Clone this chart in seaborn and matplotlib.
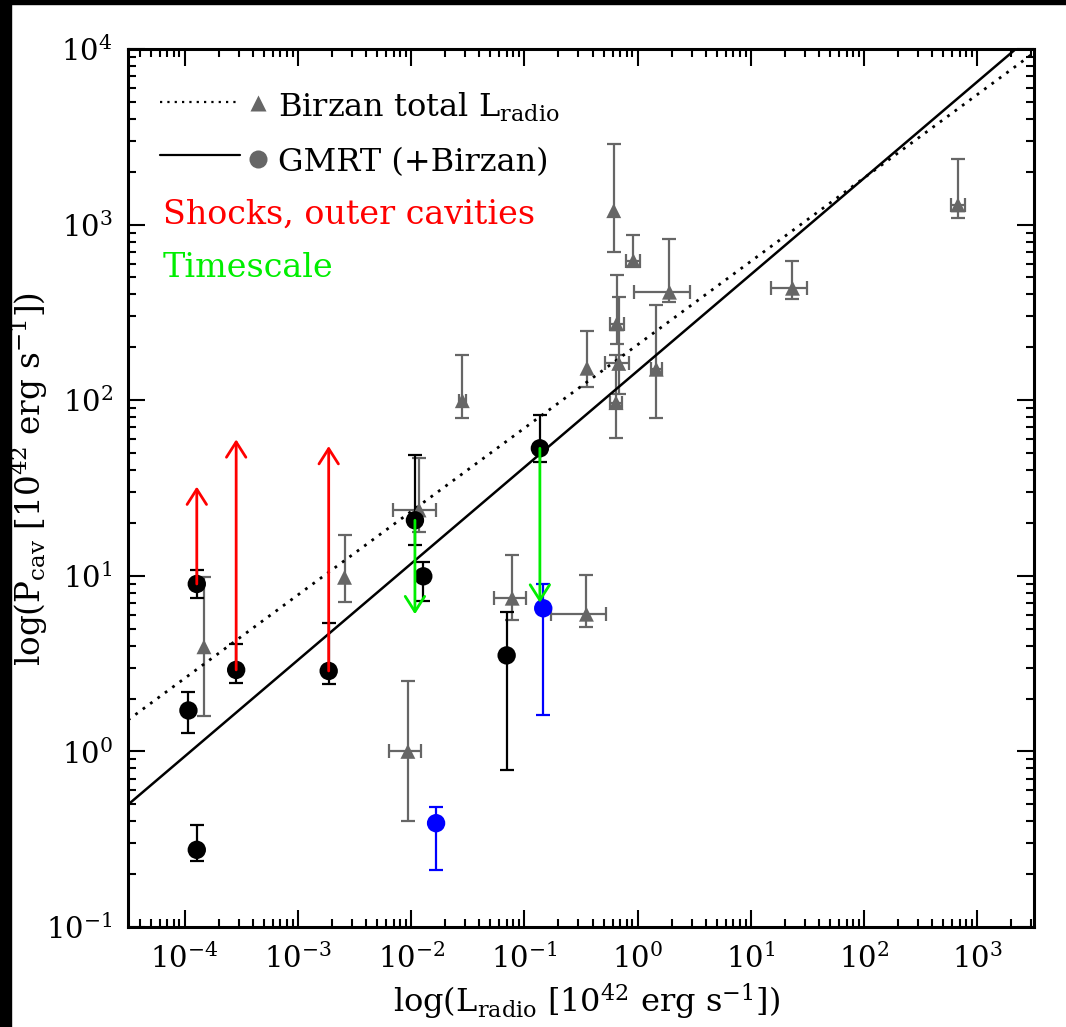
import numpy as np
import matplotlib
matplotlib.use("Agg")
import matplotlib.pyplot as plt
import seaborn as sns
from matplotlib.patches import Rectangle, FancyArrowPatch

sns.set_style("ticks")
plt.rcParams['font.family'] = ['DejaVu Serif']
plt.rcParams['mathtext.fontset'] = 'dejavuserif'
plt.rcParams['text.color'] = 'black'
plt.rcParams['axes.labelcolor'] = 'black'
plt.rcParams['xtick.color'] = 'black'
plt.rcParams['ytick.color'] = 'black'

# Birzan total L_radio (grey triangles)
bir_L = [1.48e-4, 2.58e-3, 0.01175, 0.0283, 9.36e-3, 0.078, 0.353, 0.615, 0.916,
         1.91, 0.653, 0.681, 0.644, 0.357, 1.46, 23.3, 673]
bir_P = [3.94, 9.8, 23.7, 99.3, 1.0, 7.45, 6.04, 1200, 623,
         412, 272, 162, 96.8, 152, 150, 434, 1294]
bir_P_lo = [1.6, 7.07, 17.8, 79.4, 0.40, 5.6, 5.13, 698, 581,
            364, 209, 109, 60.7, 119, 79.4, 377, 1094]
bir_P_hi = [9.9, 17.1, 46.7, 181, 2.5, 13.1, 10.1, 2877, 869,
            824, 514, 389, 182, 248, 349, 622, 2364]
bir_L_lo = [np.nan, np.nan, 6.85e-3, 0.0262, 6.4e-3, 0.0538, 0.172, np.nan, 0.795,
            0.93, 0.573, 0.519, 0.573, np.nan, 1.32, 15.2, 589]
bir_L_hi = [np.nan, np.nan, 0.0165, 0.0306, 0.0122, 0.1026, 0.526, np.nan, 1.05,
            2.87, 0.752, 0.845, 0.727, np.nan, 1.65, 31.3, 771]

# GMRT (black circles)
gm_L = [1.28e-4, 1.08e-4, 1.28e-4, 2.85e-4, 1.87e-3, 0.0108, 0.0128, 0.0697, 0.137]
gm_P = [8.98, 1.71, 0.275, 2.91, 2.87, 20.7, 9.93, 3.52, 53.2]
gm_P_lo = [7.5, 1.27, 0.236, 2.44, 2.42, 15.0, 7.2, 0.78, 44.7]
gm_P_hi = [10.8, 2.19, 0.381, 4.1, 5.4, 49.0, 12.0, 6.2, 82.6]

# blue circles
bl_L = [0.0166, 0.1466]
bl_P = [0.39, 6.53]
bl_P_lo = [0.211, 1.62]
bl_P_hi = [0.481, 9.0]

# shocks / outer cavities (red arrows up) and timescale (green arrows down)
shock_L = [1.28e-4, 2.85e-4, 1.87e-3]
shock_from = [8.98, 2.91, 2.87]
shock_to = [32.2, 59.8, 54.8]
time_L = [0.0108, 0.137]
time_from = [20.7, 53.2]
time_to = [6.04, 7.03]

# fits: log P = slope * log L + norm
fit_total = (0.475, 2.316)
fit_gmrt = (0.549, 2.167)

x_ticks = [1e-4, 1e-3, 1e-2, 1e-1, 1e0, 1e1, 1e2, 1e3]
y_ticks = [1e-1, 1e0, 1e1, 1e2, 1e3, 1e4]

gray = '#666666'
green = '#00ee00'

fig = plt.figure(figsize=(10.66, 10.27), dpi=100)
ax = fig.add_axes([0.1201, 0.0974, 0.8499, 0.8549])
ax.set_xscale('log')
ax.set_yscale('log')

xx = np.logspace(-4.5, 3.5, 200)
ax.plot(xx, 10**(fit_total[0]*np.log10(xx) + fit_total[1]), color='black',
        lw=2, linestyle=(0, (1, 2.3)), zorder=2)
ax.plot(xx, 10**(fit_gmrt[0]*np.log10(xx) + fit_gmrt[1]), color='black',
        lw=1.8, zorder=2)

eb = dict(fmt='none', elinewidth=1.6, capsize=5, capthick=1.6, zorder=1)
bP = np.array(bir_P)
ax.errorbar(bir_L, bir_P, yerr=[bP - np.array(bir_P_lo), np.array(bir_P_hi) - bP],
            ecolor=gray, **eb)
bL = np.array(bir_L)
m = ~np.isnan(np.array(bir_L_lo))
ax.errorbar(bL[m], bP[m], xerr=[bL[m] - np.array(bir_L_lo)[m], np.array(bir_L_hi)[m] - bL[m]],
            ecolor=gray, **eb)
gP = np.array(gm_P)
ax.errorbar(gm_L, gm_P, yerr=[gP - np.array(gm_P_lo), np.array(gm_P_hi) - gP],
            ecolor='black', **eb)
uP = np.array(bl_P)
ax.errorbar(bl_L, bl_P, yerr=[uP - np.array(bl_P_lo), np.array(bl_P_hi) - uP],
            ecolor='blue', **eb)

astyle = '->,head_length=0.55,head_width=0.35'
for x, y0, y1 in zip(shock_L, shock_from, shock_to):
    ax.add_patch(FancyArrowPatch((x, y0), (x, y1), arrowstyle=astyle, mutation_scale=20,
                                 color='red', lw=2, shrinkA=0, shrinkB=0, zorder=4))
for x, y0, y1 in zip(time_L, time_from, time_to):
    ax.add_patch(FancyArrowPatch((x, y0), (x, y1), arrowstyle=astyle, mutation_scale=20,
                                 color=green, lw=2, shrinkA=0, shrinkB=0, zorder=4))

sns.scatterplot(x=bir_L, y=bir_P, marker='^', s=115, color=gray, edgecolor='none', ax=ax, zorder=3)
sns.scatterplot(x=gm_L, y=gm_P, marker='o', s=175, color='black', edgecolor='none', ax=ax, zorder=3)
sns.scatterplot(x=bl_L, y=bl_P, marker='o', s=175, color='blue', edgecolor='none', ax=ax, zorder=3)

ax.set_xlim(10**-4.5, 10**3.5)
ax.set_ylim(0.1, 1e4)

# legend block
tr = ax.transAxes
ax.plot([0.0353, 0.1236], [0.9396, 0.9396], transform=tr, color='black', lw=1.6,
        linestyle=(0, (1, 2.3)), clip_on=False)
ax.plot([0.0353, 0.1236], [0.8793, 0.8793], transform=tr, color='black', lw=1.6, clip_on=False)
ax.plot([0.1435], [0.938], transform=tr, marker='^', ms=11, color=gray, mec='none')
ax.plot([0.1435], [0.875], transform=tr, marker='o', ms=13, color=gray, mec='none')
ax.text(0.1656, 0.933, 'Birzan total L$_{\\rm radio}$', transform=tr, fontsize=23, va='center')
ax.text(0.1656, 0.871, 'GMRT (+Birzan)', transform=tr, fontsize=23, va='center')
ax.text(0.0386, 0.811, 'Shocks, outer cavities', transform=tr, fontsize=24, va='center', color='red')
ax.text(0.0386, 0.7506, 'Timescale', transform=tr, fontsize=24, va='center', color=green)

ax.set_xlabel('log(L$_{\\rm radio}$ [10$^{42}$ erg s$^{-1}$])', fontsize=23)
ax.set_ylabel('log(P$_{\\rm cav}$ [10$^{42}$ erg s$^{-1}$])', fontsize=23.5)
ax.xaxis.set_label_coords(0.5055, -0.063)
ax.yaxis.set_label_coords(-0.086, 0.51)

for s in ax.spines.values():
    s.set_linewidth(2.2)
    s.set_color('black')
ax.set_xticks(x_ticks)
ax.set_yticks(y_ticks)
ax.tick_params(which='both', direction='in', top=True, right=True, width=1.5, color='black')
ax.tick_params(which='major', length=12, labelsize=21)
ax.tick_params(axis='x', which='major', pad=12)
ax.tick_params(axis='y', which='major', pad=11)
ax.tick_params(which='minor', length=6)
ax.xaxis.set_minor_locator(matplotlib.ticker.LogLocator(base=10, subs=np.arange(2, 10), numticks=20))
ax.xaxis.set_minor_formatter(matplotlib.ticker.NullFormatter())
ax.yaxis.set_minor_locator(matplotlib.ticker.LogLocator(base=10, subs=np.arange(2, 10), numticks=20))
ax.yaxis.set_minor_formatter(matplotlib.ticker.NullFormatter())

# black frame strips of the original screenshot
fig.patches.append(Rectangle((0, 0), 11/1066, 1, transform=fig.transFigure, color='black', zorder=-1))
fig.patches.append(Rectangle((0, 1 - 4/1027), 1, 4/1027, transform=fig.transFigure, color='black', zorder=-1))

fig.savefig('out.png', dpi=100)
